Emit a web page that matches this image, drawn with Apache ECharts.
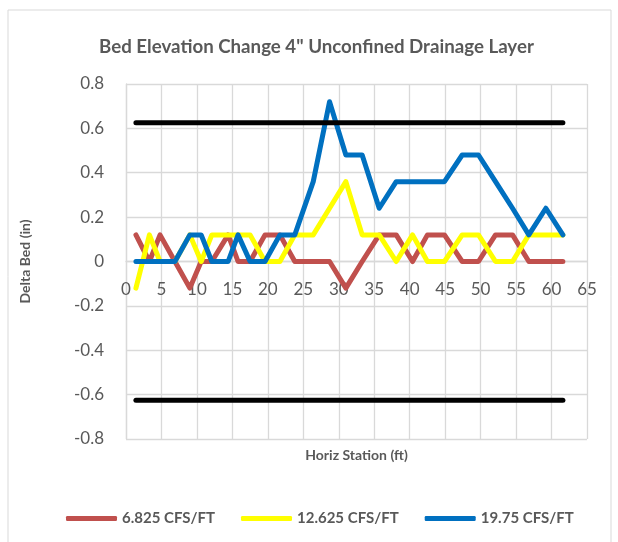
<!DOCTYPE html>
<html>
<head>
<meta charset="utf-8">
<script src="https://cdn.jsdelivr.net/npm/echarts@6/dist/echarts.min.js"></script>
<style>
  html, body { margin: 0; padding: 0; background: #fff; }
  #chart { width: 618px; height: 542px; }
</style>
</head>
<body>
<div id="chart"></div>
<script>
// stations (ft) shared by all three runs
const stations = [1.4, 3.3, 4.8, 6.9, 9.0, 10.6, 12.1, 14.4, 15.8, 17.5, 19.6, 21.7, 23.8, 26.4, 28.7,
  31.0, 33.3, 35.7, 38.1, 40.4, 42.5, 44.9, 47.4, 49.7, 52.1, 54.5, 56.8, 59.2, 61.6];
const flow6825 = [0.12, 0, 0.12, 0, -0.12, 0, 0, 0.12, 0, 0, 0.12, 0.12, 0, 0, 0,
  -0.12, 0, 0.12, 0.12, 0, 0.12, 0.12, 0, 0, 0.12, 0.12, 0, 0, 0];
const flow12625 = [-0.12, 0.12, 0, 0, 0.12, 0, 0.12, 0.12, 0.12, 0.12, 0, 0, 0.12, 0.12, 0.24,
  0.36, 0.12, 0.12, 0, 0.12, 0, 0, 0.12, 0.12, 0, 0, 0.12, 0.12, 0.12];
const flow1975 = [0, 0, 0, 0, 0.12, 0.12, 0, 0, 0.12, 0, 0, 0.12, 0.12, 0.36, 0.72,
  0.48, 0.48, 0.24, 0.36, 0.36, 0.36, 0.36, 0.48, 0.48, 0.36, 0.24, 0.12, 0.24, 0.12];
const seriesNames = ['6.825 CFS/FT', '12.625 CFS/FT', '19.75 CFS/FT'];
// tolerance lines
const limitX = [1.4, 61.6];
const limitUpper = [0.625, 0.625];
const limitLower = [-0.625, -0.625];

function pairs(xs, ys) {
  let out = [];
  for (let i = 0; i < xs.length; i++) {
    out.push([xs[i], ys[i]]);
  }
  return out;
}

const font = 'Lato, "Open Sans", sans-serif';
const textColor = '#595959';
const gridColor = '#d9d9d9';

let myChart = echarts.init(document.getElementById('chart'));

function lineSeries(name, data, color) {
  return {
    name: name,
    type: 'line',
    symbol: 'none',
    data: data,
    lineStyle: { color: color, width: 5, cap: 'round', join: 'round' },
    itemStyle: { color: color },
    animation: false
  };
}

// x axis sits on y = 0, which is the middle of the grid
const gridTop = 84, gridBottom = 103;
const plotHeight = 542 - gridTop - gridBottom;

let option = {
  backgroundColor: '#fff',
  animation: false,
  title: {
    text: 'Bed Elevation Change 4" Unconfined Drainage Layer',
    left: 94,
    top: 32,
    textStyle: { fontFamily: font, fontSize: 18.7, fontWeight: 'bold', color: textColor }
  },
  graphic: [{
    type: 'rect',
    shape: { x: 8, y: 10, width: 603, height: 540 },
    style: { fill: 'none', stroke: gridColor, lineWidth: 1 },
    silent: true
  }],
  legend: {
    data: seriesNames,
    bottom: 11,
    left: 61,
    icon: 'roundRect',
    itemWidth: 51,
    itemHeight: 5,
    itemGap: 26,
    textStyle: { fontFamily: font, fontSize: 15, fontWeight: 'bold', color: textColor }
  },
  grid: { left: 126, right: 31, top: gridTop, bottom: gridBottom, containLabel: false, outerBoundsMode: 'none' },
  xAxis: {
    type: 'value',
    min: 0,
    max: 65,
    interval: 5,
    offset: -plotHeight / 2,
    name: 'Horiz Station (ft)',
    nameLocation: 'middle',
    nameGap: 187,
    nameTextStyle: { fontFamily: font, fontSize: 14, fontWeight: 'bold', color: textColor },
    axisLine: { onZero: false, lineStyle: { color: gridColor, width: 1.3 } },
    axisTick: { show: false },
    axisLabel: { fontFamily: font, fontSize: 17, color: textColor, margin: 20 },
    splitLine: { show: true, lineStyle: { color: gridColor, width: 1.3 } }
  },
  yAxis: {
    type: 'value',
    min: -0.8,
    max: 0.8,
    interval: 0.2,
    name: 'Delta Bed (in)',
    nameLocation: 'middle',
    nameGap: 94,
    nameTextStyle: { fontFamily: font, fontSize: 14, fontWeight: 'bold', color: textColor },
    axisLine: { show: true, onZero: false, lineStyle: { color: gridColor, width: 1.3 } },
    axisTick: { show: false },
    axisLabel: {
      fontFamily: font, fontSize: 17, color: textColor, margin: 22,
      formatter: function (v) { return Math.round(v * 10) / 10 + ''; }
    },
    splitLine: { show: true, lineStyle: { color: gridColor, width: 1.3 } }
  },
  series: [
    lineSeries(seriesNames[0], pairs(stations, flow6825), '#C0504D'),
    lineSeries(seriesNames[1], pairs(stations, flow12625), '#FFFF00'),
    lineSeries(seriesNames[2], pairs(stations, flow1975), '#0070C0'),
    lineSeries('upper limit', pairs(limitX, limitUpper), '#000000'),
    lineSeries('lower limit', pairs(limitX, limitLower), '#000000')
  ]
};
myChart.setOption(option);
</script>
</body>
</html>
